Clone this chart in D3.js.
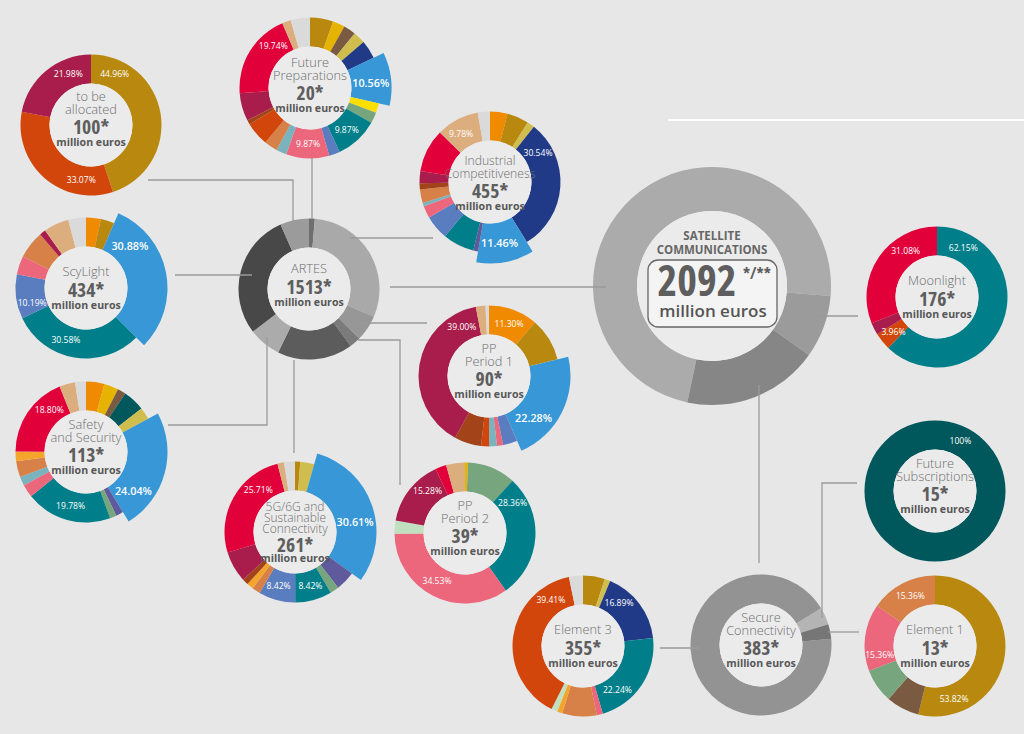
<!DOCTYPE html>
<html><head><meta charset="utf-8">
<script src="https://cdn.jsdelivr.net/npm/d3@7"></script>
<style>html,body{margin:0;padding:0;background:#e7e7e7;} svg{display:block;font-family:"Open Sans",sans-serif;}</style>
</head><body><svg id="c" width="1024" height="734"></svg>
<script>
// ---------------- DATA ----------------
const tbaValues = [44.96, 33.07, 21.98];
const tbaCats   = ["gold","rust","crimson"];
const tbaLabels = ["44.96%","33.07%","21.98%"];

const fpValues = [5.3,2.8,2.8,2.8,4.2,10.56,2.2,2.5,9.87,2.5,9.87,2.4,3,5.5,1,6.4,19.74,2,4.4];
const fpCats   = ["gold","yellow","brown","khaki","navy","lightblue","brightyellow","sage","teal","periwinkle","pink","lightteal","salmon","rust","darkrust","crimson","red","tan","lightgray"];
const fpLabels = ["","","","","","10.56%","","","9.87%","","9.87%","","","","","","19.74%","",""];

const icValues = [4,5,1.7,30.54,11.46,1.1,7.2,5.6,2.8,0.8,3.1,1.4,2.8,9.9,9.78,2.8];
const icCats   = ["orange","gold","khaki","navy","lightblue","purple","teal","periwinkle","pink","lightteal","salmon","darkrust","crimson","red","tan","lightgray"];
const icLabels = ["","","","30.54%","11.46%","","","","","","","","","","9.78%",""];

const artesValues = [20,455,90,39,261,113,434,100];
const artesCats   = ["gFP","gIC","gPP1","gPP2","g5G","gSafe","gSyc","gTBA"];

const sycValues = [3.4,3.1,30.88,30.58,10.19,4.2,6.4,1.4,5.8,4.05];
const sycCats   = ["orange","gold","lightblue","teal","periwinkle","pink","salmon","crimson","tan","lightgray"];
const sycLabels = ["","","30.88%","30.58%","10.19%","","","","",""];

const safeValues = [4.2,3.3,1.9,5,2.8,24.04,1.7,1.5,19.78,3,2,3.7,2.2,18.8,3.6,2.5];
const safeCats   = ["orange","yellow","brown","darkteal","khaki","lightblue","purple","sage","teal","pink","lightteal","salmon","yelloworange","red","tan","lightgray"];
const safeLabels = ["","","","","","24.04%","","","19.78%","","","","","18.80%","",""];

const pp1Values = [11.3,9.9,22.28,3.3,1.4,1.8,1.8,6.2,39,2.2,0.8];
const pp1Cats   = ["orange","gold","lightblue","periwinkle","pink","lightteal","rust","darkrust","crimson","tan","lightgray"];
const pp1Labels = ["11.30%","","22.28%","","","","","","39.00%","",""];

const g5Values = [1.2,3.2,30.61,4.5,2,8.42,8.42,1.9,1.5,1.4,7.1,25.71,1.5,2.5];
const g5Cats   = ["gold","khaki","lightblue","purple","sage","teal","periwinkle","salmon","yelloworange","darkrust","crimson","red","tan","lightgray"];
const g5Labels = ["","","30.61%","","","8.42%","8.42%","","","","","25.71%","",""];

const pp2Values = [0.7,11,28.36,34.53,3,15.28,2.5,4.3];
const pp2Cats   = ["yellow","sage","teal","pink","palegreen","crimson","red","tan"];
const pp2Labels = ["","","28.36%","34.53%","","15.28%","",""];

const moonValues = [62.15,3.96,2.81,31.08];
const moonCats   = ["teal","rust","crimson","red"];
const moonLabels = ["62.15%","3.96%","","31.08%"];

const fsValues = [100];
const fsCats   = ["fsteal"];
const fsLabels = ["100%"];

const e3Values = [5,1.3,16.89,22.24,1.4,7.9,1.2,1.4,39.41,3.2];
const e3Cats   = ["gold","khaki","navy","teal","pink","salmon","yelloworange","palegreen","rust","lightgray"];
const e3Labels = ["","","16.89%","22.24%","","","","","39.41%",""];

const e1Values = [53.82,7.6,7.86,15.36,15.36];
const e1Cats   = ["gold","brown","sage","pink","salmon"];
const e1Labels = ["53.82%","","","15.36%","15.36%"];

const secureValues = [355,15,13];
const secureCats   = ["gE3","gFS","gE1"];

const satValues = [1513,176,383];
const satCats   = ["gArtes","gMoon","gSecure"];

const titles = {tba:["to be","allocated"], fp:["Future","Preparations"], ic:["Industrial","Competitiveness"],
  artes:["ARTES"], syc:["ScyLight"], safe:["Safety","and Security"], pp1:["PP","Period 1"],
  g5:["5G/6G and","Sustainable","Connectivity"], pp2:["PP","Period 2"], moon:["Moonlight"],
  fs:["Future","Subscriptions"], secure:["Secure","Connectivity"], e3:["Element 3"], e1:["Element 1"]};
const amounts = {tba:"100*", fp:"20*", ic:"455*", artes:"1513*", syc:"434*", safe:"113*", pp1:"90*",
  g5:"261*", pp2:"39*", moon:"176*", fs:"15*", secure:"383*", e3:"355*", e1:"13*"};
const satTitle = ["SATELLITE","COMMUNICATIONS"];
const satAmount = "2092", satMark = "*/**", unitText = "million euros";

// ---------------- STYLE / LAYOUT ----------------
const palette = {orange:"#f08a00", gold:"#b8890e", yellow:"#e5b300", brown:"#7a5a40", darkteal:"#00585c",
  khaki:"#cfbd4e", navy:"#203a88", lightblue:"#3897d6", brightyellow:"#ffdf00", purple:"#5e5a9c",
  sage:"#77a57d", teal:"#007f8a", periwinkle:"#5a7dc0", pink:"#ec667c", lightteal:"#7ab2bd",
  salmon:"#d78048", yelloworange:"#f5a52c", palegreen:"#c0e0c0", rust:"#d2460b", darkrust:"#a3431a",
  crimson:"#a81d4b", red:"#e2003b", tan:"#dcae7e", lightgray:"#dadada", fsteal:"#00575c",
  gFP:"#6f6f6f", gIC:"#a9a9a9", gPP1:"#979797", gPP2:"#7b7b7b", g5G:"#5c5c5c", gSafe:"#ababab",
  gSyc:"#484848", gTBA:"#9b9b9b", gE3:"#939393", gFS:"#b4b4b4", gE1:"#767676",
  gArtes:"#ababab", gMoon:"#9b9b9b", gSecure:"#868686"};
const color = d3.scaleOrdinal().domain(Object.keys(palette)).range(Object.values(palette));

const layout = [
  {id:"tba", v:tbaValues, c:tbaCats, l:tbaLabels, x:91, y:125, deg:{0:25,1:190,2:336}, dy:-1},
  {id:"fp", v:fpValues, c:fpCats, l:fpLabels, x:310, y:88, deg:{5:85,8:139,10:182,16:319}, dy:2},
  {id:"ic", v:icValues, c:icCats, l:icLabels, x:490, y:182, deg:{3:59,4:171,14:329}, dy:6, ts:12.2},
  {id:"artes", v:artesValues, c:artesCats, x:309, y:289, dy:-4},
  {id:"syc", v:sycValues, c:sycCats, l:sycLabels, x:86, y:288, deg:{2:46,3:201,4:254}},
  {id:"safe", v:safeValues, c:safeCats, l:safeLabels, x:86, y:452, deg:{5:129,8:196,13:319}},
  {id:"pp1", v:pp1Values, c:pp1Cats, l:pp1Labels, x:489, y:376, deg:{0:21,2:133,8:331}},
  {id:"g5", v:g5Values, c:g5Cats, l:g5Labels, x:295, y:532, deg:{2:80,5:164,6:197,11:319}, ts:12},
  {id:"pp2", v:pp2Values, c:pp2Cats, l:pp2Labels, x:465, y:533, deg:{2:58,3:210,5:318}},
  {id:"moon", v:moonValues, c:moonCats, l:moonLabels, x:937, y:297, deg:{0:28,1:231,3:326}},
  {id:"fs", v:fsValues, c:fsCats, l:fsLabels, x:935, y:491, deg:{0:27}},
  {id:"secure", v:secureValues, c:secureCats, x:761, y:645, start:85},
  {id:"e3", v:e3Values, c:e3Cats, l:e3Labels, x:583, y:646, deg:{2:40,3:142,8:325}},
  {id:"e1", v:e1Values, c:e1Cats, l:e1Labels, x:935, y:646, deg:{0:160,3:261,4:334}}
];
// text block metrics by number of title lines
const block = {1:{c0:-16, sp:12, ng:18.5, mg:14.5}, 2:{c0:-27, sp:12.3, ng:18, mg:15}, 3:{c0:-25.5, sp:11.3, ng:15.7, mg:13.3}};
const R = 70.5, r = 41.5, explode = 11;
const sat = {x:712, y:286, R:119, r:75, start:192};

const connectors = [
  [[148,180],[293,180],[293,226]],
  [[312,158],[312,219]],
  [[350,238],[433,238]],
  [[390,287],[606,287]],
  [[358,323],[427,323]],
  [[358,340],[400,340],[400,485]],
  [[294,360],[294,453]],
  [[267,337],[267,425],[168,425]],
  [[175,275],[252,275]],
  [[813,316],[858,316]],
  [[759,385],[759,563]],
  [[660,648],[699,648]],
  [[822,618],[822,483],[857,483]],
  [[828,632],[859,632]]
];

// ---------------- DRAW ----------------
const svg = d3.select("#c");
svg.append("rect").attr("width",1024).attr("height",734).attr("fill","#e7e7e7");
svg.append("line").attr("x1",668).attr("x2",1024).attr("y1",120).attr("y2",120)
  .attr("stroke","#ffffff").attr("stroke-width",2);

const rad = Math.PI/180;
function pieFor(start){
  return d3.pie().sort(null).value(d=>d.v)
    .startAngle(start*rad).endAngle(start*rad + 2*Math.PI);
}

// satellite communications ring
{
  const g = svg.append("g").attr("transform",`translate(${sat.x},${sat.y})`);
  const data = satValues.map((v,i)=>({v, c:satCats[i]}));
  const arc = d3.arc().innerRadius(sat.r).outerRadius(sat.R);
  g.selectAll("path").data(pieFor(sat.start)(data)).join("path")
    .attr("d",arc).attr("fill",d=>color(d.data.c));
  g.append("circle").attr("r",sat.r).attr("fill","#ebebeb");
}

const gDonuts = svg.append("g");
layout.forEach(n=>{
  const g = gDonuts.append("g").attr("transform",`translate(${n.x},${n.y})`);
  const data = n.v.map((v,i)=>({v, c:n.c[i], l:n.l?n.l[i]:"", i}));
  const arcs = pieFor(n.start||0)(data);
  const arc = d3.arc().innerRadius(r)
    .outerRadius(d=>d.data.c==="lightblue" ? R+explode : R);
  g.selectAll("path").data(arcs).join("path")
    .attr("d",arc).attr("fill",d=>color(d.data.c));
  g.append("circle").attr("r",r).attr("fill","#ebebeb");
  // percentage labels
  arcs.filter(d=>d.data.l).forEach(d=>{
    const big = d.data.c==="lightblue";
    const a = (n.deg && n.deg[d.data.i]!=null) ? n.deg[d.data.i]*rad : (d.startAngle+d.endAngle)/2;
    const rr = big ? 61 : 56;
    g.append("text").attr("x",rr*Math.sin(a)).attr("y",-rr*Math.cos(a))
      .attr("text-anchor","middle").attr("dominant-baseline","central")
      .attr("fill","#ffffff").attr("font-size",big?10.8:8.6).attr("font-weight",big?600:400)
      .text(d.data.l);
  });
  // centre text
  const t = titles[n.id], k = t.length, b = block[k];
  const c0 = b.c0 + (n.dy||0);
  t.forEach((s,i)=>{
    g.append("text").attr("x",0).attr("y",c0 + b.sp*i + 4.3).attr("text-anchor","middle")
      .attr("font-size",n.ts||12.8).attr("font-weight",300).attr("fill","#6e6e6e")
      .style("font-stretch","93.75%").text(s);
  });
  const numC = c0 + b.sp*(k-1) + b.ng;
  g.append("text").attr("x",0).attr("y",numC + 6.8).attr("text-anchor","middle")
    .attr("font-size",19.5).attr("font-weight",700).attr("fill","#5e5e5e")
    .style("font-stretch","87.5%").text(amounts[n.id]);
  g.append("text").attr("x",0).attr("y",numC + b.mg + 3.6).attr("text-anchor","middle")
    .attr("font-size",10.6).attr("font-weight",700).attr("fill","#575757")
    .style("font-stretch","95%").text(unitText);
});

// connectors on top
const lineGen = d3.line();
svg.append("g").selectAll("path").data(connectors).join("path")
  .attr("d",lineGen).attr("fill","none").attr("stroke","#9a9a9a").attr("stroke-width",1.3);

// satellite centre text
{
  const g = svg.append("g").attr("transform",`translate(${sat.x},${sat.y})`);
  satTitle.forEach((s,i)=>{
    g.append("text").attr("x",0).attr("y",-46 + 14*i).attr("text-anchor","middle")
      .attr("font-size",11.5).attr("font-weight",700).attr("fill","#666").style("font-stretch","92%").text(s);
  });
  g.append("rect").attr("x",-64).attr("y",-26).attr("width",129).attr("height",67).attr("rx",10)
    .attr("fill","#f4f4f4").attr("stroke","#666").attr("stroke-width",1.3);
  g.append("text").attr("x",-15).attr("y",10).attr("text-anchor","middle")
    .attr("font-size",42).attr("font-weight",700).attr("fill","#5e5e5e").style("font-stretch","85%").text(satAmount);
  g.append("text").attr("x",31).attr("y",-7).attr("text-anchor","start")
    .attr("font-size",16).attr("font-weight",700).attr("fill","#5e5e5e").style("font-stretch","85%").text(satMark);
  g.append("text").attr("x",1).attr("y",31).attr("text-anchor","middle")
    .attr("font-size",17).attr("font-weight",600).attr("fill","#555").style("font-stretch","90%").text(unitText);
}
</script></body></html>
